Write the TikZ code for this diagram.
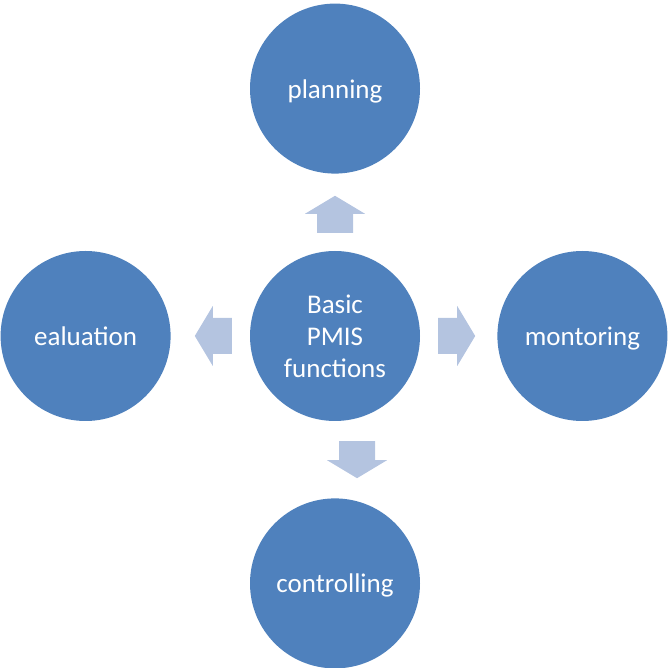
\documentclass[tikz,border=0pt]{standalone}
\usepackage{fontspec}
\setmainfont{Carlito}
\usetikzlibrary{positioning,calc}
\definecolor{pmisblue}{RGB}{79,129,189}
\definecolor{pmislight}{RGB}{180,196,224}

\begin{document}
\begin{tikzpicture}[x=1pt, y=1pt,
  fn/.style={circle, fill=pmisblue, draw=none, minimum size=170pt, inner sep=0pt,
    text=white, align=center, font=\fontsize{27}{32}\selectfont},
  fnone/.style={fn, text height=25pt, text depth=6pt},
  blockarr/.style={fill=pmislight, draw=none}]
\useasboundingbox (-335,-333) rectangle (332,335);
\node[fn, yshift=-1pt] (c) {Basic\\PMIS\\functions};
\node[fnone, above=77pt of c] (plan) {planning};
\node[fnone, left=79pt of c] (eval) {ealuation};
\node[fnone, right=77pt of c] (mon) {montoring};
\node[fnone, below=77pt of c] (ctrl) {controlling};
% tails of the block arrows
\coordinate (toplan) at ([yshift=18pt]c.north);
\coordinate (toeval) at ([xshift=-18pt]c.west);
\coordinate (tomon) at ([xshift=18pt]c.east);
\coordinate (toctrl) at ([xshift=22pt,yshift=-20pt]c.south);
\foreach \t/\a in {toplan/90, toeval/180, tomon/0, toctrl/270}
  \fill[blockarr, shift={(\t)}, rotate=\a]
    (0,-18) -- (19,-18) -- (19,-30) -- (37,0) -- (19,30) -- (19,18) -- (0,18) -- cycle;
\end{tikzpicture}
\end{document}
